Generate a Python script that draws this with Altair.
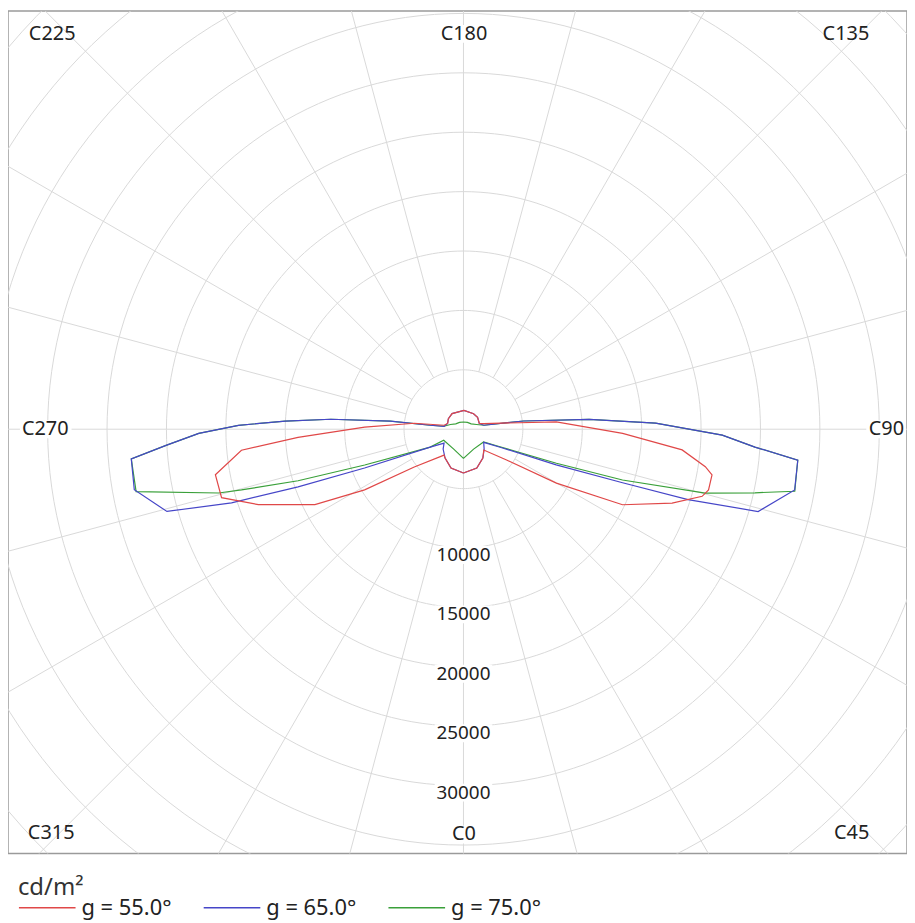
import math
import altair as alt
import pandas as pd

# ---------------- data ----------------
series_names = ["g = 55.0°", "g = 65.0°", "g = 75.0°"]
series_colors = ["#e04848", "#4646c8", "#3aa03a"]

# C-plane angle (deg) and luminance (cd/m²)
c55 = [0, 19, 34, 44.3, 54.5, 59.9, 64.6, 70.5, 74.3, 76.1, 79.6, 81.2, 84.6, 88.5, 94.5,
       105.8, 110, 130, 147, 178.5, 216, 235, 250, 258.4, 263.1, 268.8, 272.8, 275.4, 280.4,
       285.8, 290.2, 296.9, 301.5, 307.5, 323.1, 327.5, 342.2]
l55 = [3680, 3450, 2920, 2450, 4460, 9040, 14820, 18630, 20870, 21250, 21270, 20600, 18490, 13400, 7840,
       1760, 1420, 1550, 1560, 1590, 1630, 1550, 1420, 1660, 4170, 8320, 13940, 18770, 21230,
       21160, 18390, 14020, 9760, 5220, 2720, 2880, 3430]

c65 = [0, 19, 34, 46, 57, 64, 69, 71.4, 72.6, 74.4, 79.6, 84.7, 86.5, 88.7, 91.8,
       94.5, 97.8, 101, 110, 130, 147, 178.5, 216, 235, 250, 261.3, 263.2, 263.6, 265.7, 267.4,
       269, 270.9, 273.1, 275.1, 280.4, 285.5, 287.6, 289.2, 291.4, 298.3, 305.7, 314.3, 327.5, 342.2]
l65 = [3680, 3450, 2920, 2420, 2030, 3510, 8360, 14130, 19810, 25750, 28340, 28260, 24580, 21790, 16180,
       10610, 5100, 1750, 1420, 1550, 1560, 1590, 1630, 1550, 1420, 1650, 2820, 6190, 11190, 15020,
       18940, 22280, 25070, 28070, 28170, 25900, 20480, 14740, 8940, 3180, 2010, 2390, 2880, 3430]

c75 = [0, 27, 57.8, 64, 69.9, 72.3, 75.2, 77.7, 79.4, 84.7, 86.5, 88.7, 91.8, 94.5, 97.8,
       101, 110, 125, 150, 180, 210, 235, 250, 261.3, 263.2, 263.6, 265.7, 267.4, 269, 270.9,
       273.1, 275.1, 280.8, 284.6, 285.3, 287.3, 289.9, 298.3, 299.1, 333.9]
l75 = [2450, 1880, 2000, 3260, 8330, 14050, 21050, 25110, 28370, 28260, 24580, 21790, 16180, 10610, 5100,
       1750, 1170, 790, 670, 610, 670, 790, 1170, 1650, 2820, 6190, 11190, 15020, 18940, 22280,
       25070, 28070, 28050, 21290, 19370, 14580, 8840, 3180, 1900, 1860]

ring_values = [5000, 10000, 15000, 20000, 25000, 30000, 35000, 40000, 45000, 50000]
ring_label_values = [10000, 15000, 20000, 25000, 30000]
spoke_angles = list(range(0, 360, 15))
c_plane_labels = ["C0", "C45", "C90", "C135", "C180", "C225", "C270", "C315"]

# ---------------- geometry of the view ----------------
W, H = 905, 848            # plot (frame) size in px
CX, CY = 458.5, 421.0      # pole position inside the frame, px
PX = 1 / 0.01196           # cd/m² per pixel
x_dom = [-CX * PX, (W - CX) * PX]
y_dom = [-(H - CY) * PX, CY * PX]
xs = alt.Scale(domain=x_dom, nice=False, zero=False)
ys = alt.Scale(domain=y_dom, nice=False, zero=False)


def pol(c_deg, v):
    a = math.radians(c_deg)
    return v * math.sin(a), -v * math.cos(a)


# curves
rows = []
for name, cs, ls in zip(series_names, [c55, c65, c75], [l55, l65, l75]):
    pts = list(zip(cs, ls)) + [(cs[0] + 360, ls[0])]
    for i, (c, v) in enumerate(pts):
        x, y = pol(c, v)
        rows.append({"series": name, "i": i, "x": x, "y": y, "C": c, "L": v})
curves = pd.DataFrame(rows)

# rings
ring_rows = []
for v in ring_values:
    for i, a in enumerate(range(0, 361, 2)):
        x, y = pol(a, v)
        ring_rows.append({"ring": v, "i": i, "x": x, "y": y})
rings = pd.DataFrame(ring_rows)

# spokes
sp_rows = []
for a in spoke_angles:
    r0 = 0 if a % 90 == 0 else ring_values[0]
    x0, y0 = pol(a, r0)
    x1, y1 = pol(a, 70000)
    sp_rows.append({"a": a, "x": x0, "y": y0, "x2": x1, "y2": y1})
spokes = pd.DataFrame(sp_rows)

# ring value labels (below the pole, along C0)
lab_off = 7 * PX
rl = pd.DataFrame({
    "text": [str(v) for v in ring_label_values],
    "x": [0.0] * len(ring_label_values),
    "y": [-v - lab_off for v in ring_label_values],
})
rl["bx"] = rl["x"] - 29 * PX
rl["bx2"] = rl["x"] + 29 * PX
rl["by"] = rl["y"] - 9 * PX
rl["by2"] = rl["y"] + 9 * PX

# C-plane labels around the frame (pixel anchors inside the frame -> data units)
anchors = {
    "C0": (459, 829, "center", 16), "C45": (867, 827, "right", 0), "C90": (902, 421, "right", 36),
    "C135": (867, 23, "right", 0), "C180": (459, 23, "center", 26), "C225": (21, 23, "left", 0),
    "C270": (14, 421, "left", 48), "C315": (20, 827, "left", 0),
}
cl_rows = []
for t in c_plane_labels:
    px, py, al, bw = anchors[t]
    x, y = (px - CX) * PX, (CY - py) * PX
    if al == "left":
        bx, bx2 = x - 2 * PX, x + (bw + 2) * PX
    elif al == "right":
        bx, bx2 = x - (bw + 2) * PX, x + 2 * PX
    else:
        bx, bx2 = x - (bw / 2 + 2) * PX, x + (bw / 2 + 2) * PX
    cl_rows.append({"text": t, "x": x, "y": y, "al": al, "bw": bw,
                    "bx": bx, "bx2": bx2, "by": y - 9 * PX, "by2": y + 9 * PX})
cl = pd.DataFrame(cl_rows)
cl_box = cl[cl["bw"] > 0]

FONT = "Noto Sans"
GRID = "#d9d9d9"

enc_xy = dict(x=alt.X("x:Q", scale=xs, axis=None), y=alt.Y("y:Q", scale=ys, axis=None))

ring_layer = alt.Chart(rings).mark_line(clip=True, stroke=GRID, strokeWidth=1).encode(
    detail="ring:N", order=alt.Order("i:Q"), **enc_xy)

spoke_layer = alt.Chart(spokes).mark_rule(clip=True, stroke=GRID, strokeWidth=1).encode(
    x2="x2:Q", y2="y2:Q", **enc_xy)

box_enc = dict(x=alt.X("bx:Q", scale=xs, axis=None), x2="bx2:Q",
               y=alt.Y("by:Q", scale=ys, axis=None), y2="by2:Q")
box_layer = alt.Chart(rl).mark_rect(fill="white").encode(**box_enc)
cbox_layer = alt.Chart(cl_box).mark_rect(fill="white", clip=True).encode(**box_enc)

ring_text = alt.Chart(rl).mark_text(font=FONT, fontSize=19, color="#222", baseline="middle",
                                    align="center").encode(text="text:N", **enc_xy)

ctext_layers = []
for al in ["left", "center", "right"]:
    sub = cl[cl["al"] == al][["text", "x", "y"]]
    ctext_layers.append(
        alt.Chart(sub).mark_text(font=FONT, fontSize=20, color="#222", baseline="middle",
                                 align=al).encode(text="text:N", **enc_xy))

color = alt.Color(
    "series:N",
    scale=alt.Scale(domain=series_names, range=series_colors),
    legend=alt.Legend(
        title="cd/m²", orient="none", legendX=10, legendY=871, direction="horizontal",
        symbolType="stroke", symbolSize=3249, symbolStrokeWidth=1.5,
        labelFont=FONT, labelFontSize=22, labelColor="#222", labelOffset=5,
        titleFont=FONT, titleFontSize=24, titleFontWeight="normal", titleColor="#333",
        titlePadding=-22, columnPadding=29,
    ),
)

curve_layers = []
for name in [series_names[2], series_names[1], series_names[0]]:
    curve_layers.append(
        alt.Chart(curves[curves["series"] == name]).mark_line(clip=True, strokeWidth=1.2).encode(
            color=color, order=alt.Order("i:Q"), **enc_xy))

chart = alt.layer(
    ring_layer, spoke_layer, *curve_layers, box_layer, cbox_layer, ring_text, *ctext_layers
).properties(
    width=W, height=H,
    autosize=alt.AutoSizeParams(type="none"),
    padding={"left": 0, "top": 0, "right": 0, "bottom": 64},
).configure_view(stroke="#9a9a9a", strokeWidth=1.5)

chart.save("out.html", embed_options={"renderer": "svg", "actions": False})
